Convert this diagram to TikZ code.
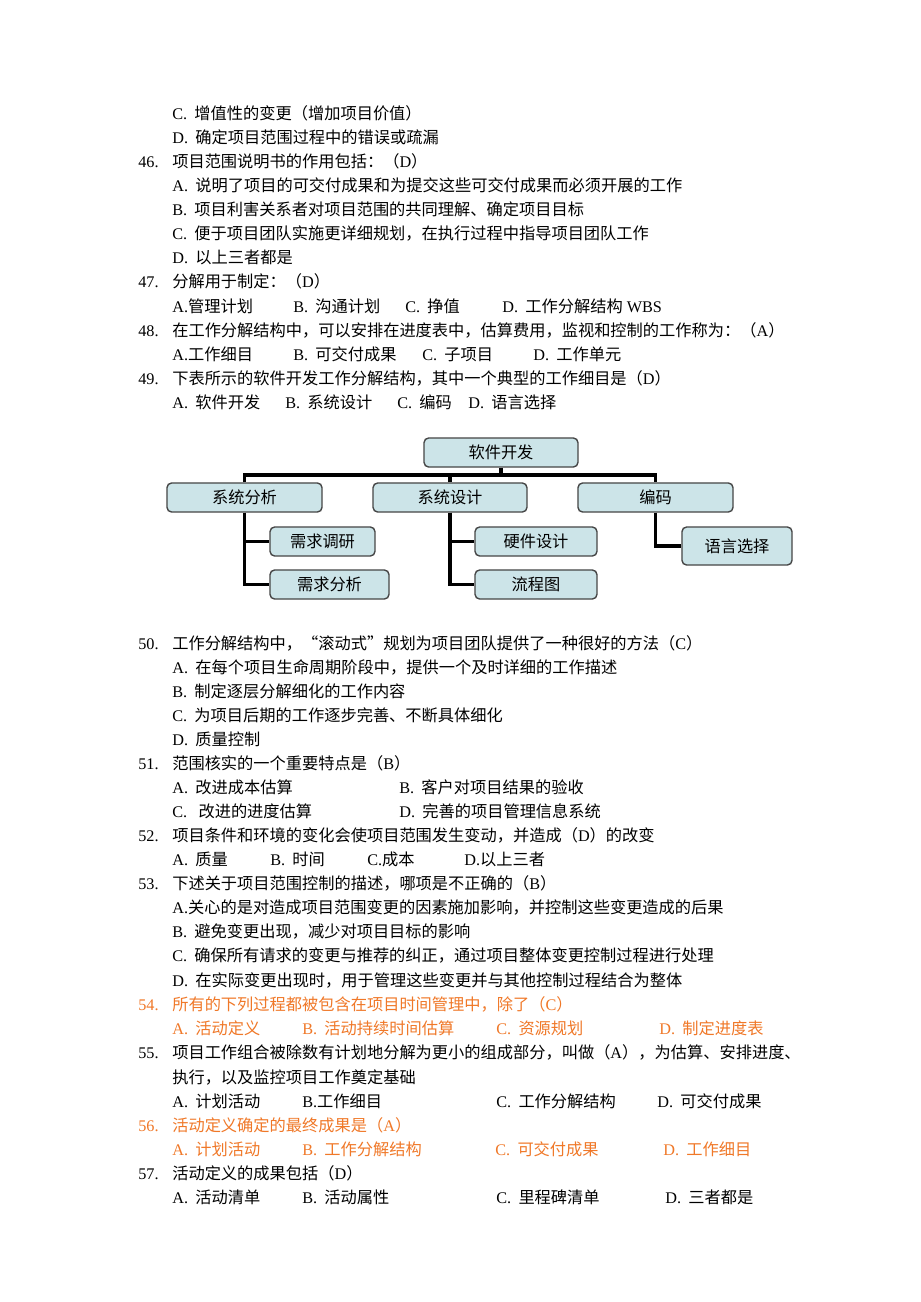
\documentclass[tikz,border=0pt]{standalone}
\usepackage{fontspec}
\setmainfont{Liberation Serif}
\newfontfamily\zhfont{Noto Sans CJK SC}
\XeTeXinterchartokenstate=1
\chardef\zhclass=1
\newcount\zhcnt
\zhcnt="3000 \loop\XeTeXcharclass\zhcnt=\zhclass\ifnum\zhcnt<"303F \advance\zhcnt by 1 \repeat
\zhcnt="4E00 \loop\XeTeXcharclass\zhcnt=\zhclass\ifnum\zhcnt<"9FFF \advance\zhcnt by 1 \repeat
\zhcnt="FF00 \loop\XeTeXcharclass\zhcnt=\zhclass\ifnum\zhcnt<"FFEF \advance\zhcnt by 1 \repeat
\XeTeXcharclass"201C=\zhclass
\XeTeXcharclass"201D=\zhclass
\XeTeXinterchartoks 0 \zhclass = {\zhfont}
\XeTeXinterchartoks 4095 \zhclass = {\ifdim\lastskip>0pt \hskip 0.2em\relax\fi\zhfont}
\XeTeXinterchartoks \zhclass 0 = {\rmfamily}
\XeTeXinterchartoks \zhclass 4095 = {\rmfamily}
\definecolor{boxfill}{RGB}{204,228,232}
\definecolor{boxline}{RGB}{70,70,70}
\definecolor{hilite}{RGB}{240,120,40}

\begin{document}
\begin{tikzpicture}
		[x=0.647pt,y=-0.647pt,
		every node/.style={font=\fontsize{10.5pt}{12pt}\selectfont},
		txt/.style={anchor=base west,inner sep=0pt},
		wbs/.style={draw=boxline,fill=boxfill,line width=0.9pt,rounded corners=3pt,
			minimum height=18.8pt,inner sep=0pt},
		link/.style={line width=2.2pt}]
	\path[fill=white] (0,0) rectangle (920,1302);
	\foreach \y/\c/\n/\t [count=\i] in {
		167/black/46./项目范围说明书的作用包括：（D）,
		287/black/47./分解用于制定：（D）,
		336/black/48./在工作分解结构中，可以安排在进度表中，估算费用，监视和控制的工作称为：（A）,
		384/black/49./下表所示的软件开发工作分解结构，其中一个典型的工作细目是（D）,
		649/black/50./工作分解结构中，“滚动式”规划为项目团队提供了一种很好的方法（C）,
		769/black/51./范围核实的一个重要特点是（B）,
		841/black/52./项目条件和环境的变化会使项目范围发生变动，并造成（D）的改变,
		889/black/53./下述关于项目范围控制的描述，哪项是不正确的（B）,
		1010/hilite/54./所有的下列过程都被包含在项目时间管理中，除了（C）,
		1058/black/55./项目工作组合被除数有计划地分解为更小的组成部分，叫做（A），为估算、安排进度、,
		1131/hilite/56./活动定义确定的最终成果是（A）,
		1179/black/57./活动定义的成果包括（D）}
	{
		\node[txt,text=\c] (n\i) at (138,\y) {\n};
		\node[txt,text=\c] (q\i) at (172,\y) {\t};
	}
	\foreach \x/\y/\t [count=\i] in {
		172/119/C. 增值性的变更（增加项目价值）,
		172/143/D. 确定项目范围过程中的错误或疏漏,
		172/191/A. 说明了项目的可交付成果和为提交这些可交付成果而必须开展的工作,
		172/215/B. 项目利害关系者对项目范围的共同理解、确定项目目标,
		172/239/C. 便于项目团队实施更详细规划，在执行过程中指导项目团队工作,
		172/263/D. 以上三者都是,
		172/312/A.管理计划, 293/312/B. 沟通计划, 405/312/C. 挣值, 502/312/D. 工作分解结构 WBS,
		172/360/A.工作细目, 293/360/B. 可交付成果, 422/360/C. 子项目, 533/360/D. 工作单元,
		172/408/A. 软件开发, 285/408/B. 系统设计, 397/408/C. 编码, 468/408/D. 语言选择,
		172/673/A. 在每个项目生命周期阶段中，提供一个及时详细的工作描述,
		172/697/B. 制定逐层分解细化的工作内容,
		172/721/C. 为项目后期的工作逐步完善、不断具体细化,
		172/745/D. 质量控制,
		172/793/A. 改进成本估算, 399/793/B. 客户对项目结果的验收,
		172/817/C.\ \ 改进的进度估算, 399/817/D. 完善的项目管理信息系统,
		172/865/A. 质量, 270/865/B. 时间, 367/865/C.成本, 464/865/D.以上三者,
		172/913/A.关心的是对造成项目范围变更的因素施加影响，并控制这些变更造成的后果,
		172/937/B. 避免变更出现，减少对项目目标的影响,
		172/961/C. 确保所有请求的变更与推荐的纠正，通过项目整体变更控制过程进行处理,
		172/986/D. 在实际变更出现时，用于管理这些变更并与其他控制过程结合为整体,
		172/1083/执行，以及监控项目工作奠定基础,
		172/1107/A. 计划活动, 302/1107/B.工作细目, 496/1107/C. 工作分解结构, 657/1107/D. 可交付成果,
		172/1203/A. 活动清单, 302/1203/B. 活动属性, 496/1203/C. 里程碑清单, 665/1203/D. 三者都是}
		\node[txt] (s\i) at (\x,\y) {\t};
	\foreach \x/\y/\t [count=\i] in {
		172/1034/A. 活动定义, 302/1034/B. 活动持续时间估算, 496/1034/C. 资源规划, 659/1034/D. 制定进度表,
		172/1155/A. 计划活动, 302/1155/B. 工作分解结构, 495/1155/C. 可交付成果, 663/1155/D. 工作细目}
		\node[txt,text=hilite] (h\i) at (\x,\y) {\t};

	\node[wbs,minimum width=99.6pt] (rjkf) at (501,452.5) {软件开发};
	\node[wbs,minimum width=100.3pt] (xtfx) at (244.5,497.5) {系统分析};
	\node[wbs,minimum width=99.6pt] (xtsj) at (450,497.5) {系统设计};
	\node[wbs,minimum width=100.3pt] (bm) at (655.5,497.5) {编码};
	\node[wbs,minimum width=67.9pt] (xqdy) at (322.5,541.5) {需求调研};
	\node[wbs,minimum width=77pt] (xqfx) at (329.5,584.5) {需求分析};
	\node[wbs,minimum width=78.9pt] (yjsj) at (536,541.5) {硬件设计};
	\node[wbs,minimum width=78.9pt] (lct) at (536,584.5) {流程图};
	\node[wbs,minimum width=71.2pt,minimum height=24.6pt] (yyxz) at (737,546) {语言选择};
	\coordinate (bar) at (501,475);
	\draw[link] (rjkf.south) -- (bar);
	\draw[link] (xtfx.north) -- (xtfx.north |- bar) -- (bm.north |- bar) -- (bm.north);
	\draw[link] (xtsj.north) -- (xtsj.north |- bar);
	\draw[link] (xtfx.south) |- (xqdy.west);
	\draw[link] (xtfx.south) |- (xqfx.west);
	\draw[link] (xtsj.south) |- (yjsj.west);
	\draw[link] (xtsj.south) |- (lct.west);
	\draw[link] (bm.south) |- (yyxz.west);
\end{tikzpicture}
\end{document}
